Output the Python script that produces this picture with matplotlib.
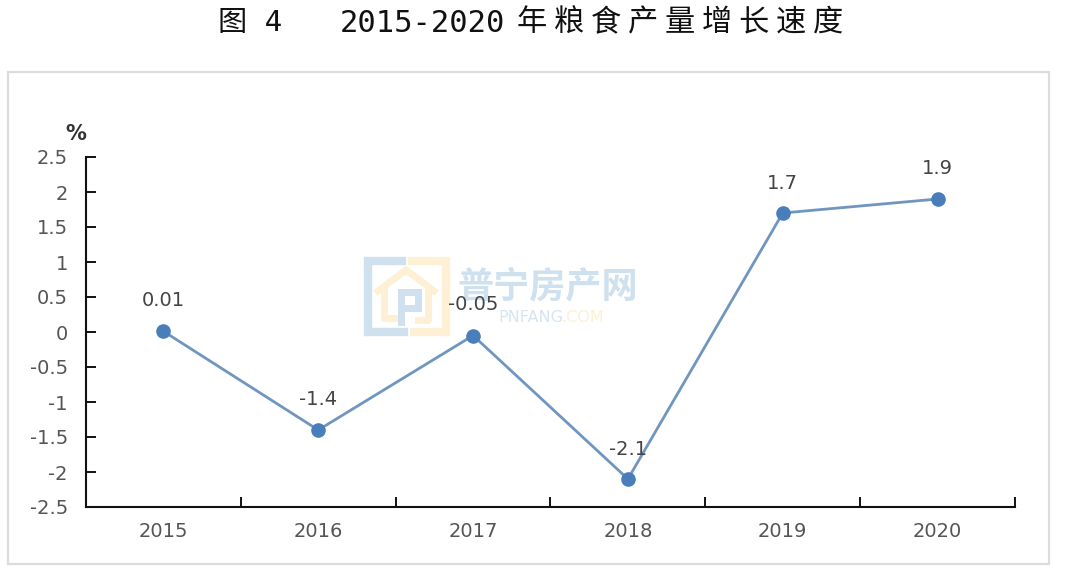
import matplotlib
matplotlib.use("Agg")
import matplotlib.pyplot as plt
from matplotlib.patches import Rectangle

plt.rcParams['font.family'] = ['DejaVu Sans', 'Noto Sans CJK SC']

years = ["2015", "2016", "2017", "2018", "2019", "2020"]
growth = [0.01, -1.4, -0.05, -2.1, 1.7, 1.9]
labels = ["0.01", "-1.4", "-0.05", "-2.1", "1.7", "1.9"]
yticks = [-2.5, -2, -1.5, -1, -0.5, 0, 0.5, 1, 1.5, 2, 2.5]
yticklabels = ["-2.5", "-2", "-1.5", "-1", "-0.5", "0", "0.5", "1", "1.5", "2", "2.5"]

W, H = 1080, 572
fig = plt.figure(figsize=(W / 100, H / 100), dpi=100)

# frame around the chart
bg = fig.add_axes([0, 0, 1, 1])
bg.set_xlim(0, W)
bg.set_ylim(H, 0)
bg.axis("off")
bg.add_patch(Rectangle((8, 72), 1041, 492, fill=False, ec="#dcdcdc", lw=1.6))

# watermark
blue = "#cfe0ee"
yellow = "#fdf0d5"
bg.plot([402, 368, 368, 404], [261, 261, 332, 332], color=blue, lw=6, solid_joinstyle="miter")
bg.plot([412, 446, 446, 414], [261, 261, 332, 332], color=yellow, lw=6, solid_joinstyle="miter")
bg.plot([378, 406, 434], [291, 270, 291], color=yellow, lw=5, solid_joinstyle="miter")
bg.plot([384, 384, 396], [291, 318, 318], color=yellow, lw=5)
bg.plot([428, 428, 418], [291, 320, 320], color=yellow, lw=5)
bg.plot([401, 401, 418, 418, 403], [322, 292, 292, 308, 308], color=blue, lw=5, solid_joinstyle="miter")
bg.text(548, 287, "普宁房产网", fontsize=26, color="#cfe0ee", ha="center", va="center",
        family="Noto Sans CJK SC", weight="bold")
bg.text(498, 318, "PNFANG", fontsize=11.5, color="#d6e5f1", ha="left", va="center")
bg.text(561, 318, ".COM", fontsize=11.5, color="#fdf0d5", ha="left", va="center")

# title, three pieces because the spacing differs
title_color = "#111111"
bg.text(218, 23, "图 4", fontsize=21, ha="left", va="center", color=title_color,
        family=["DejaVu Sans Mono", "Noto Sans CJK SC"])
bg.text(340, 23, "2015-2020", fontsize=22, ha="left", va="center", color=title_color,
        family="DejaVu Sans Mono")
bg.text(517, 23, "年 粮 食 产 量 增 长 速 度", fontsize=21.8, ha="left", va="center",
        color=title_color, family="Noto Sans CJK SC")

ax = fig.add_axes([86 / W, 1 - 507 / H, 929 / W, 350 / H])
ax.patch.set_alpha(0)
x = list(range(len(years)))
ax.plot(x, growth, color="#7096bf", lw=2, marker="o", ms=9.5, mfc="#4a7ebb", mec="#4a7ebb")
ax.set_xlim(-0.5, 5.5)
ax.set_ylim(-2.5, 2.5)
ax.set_yticks(yticks)
ax.set_yticklabels(yticklabels)
ax.set_xticks(x)
ax.set_xticklabels(years)
ax.set_xticks([i - 0.5 for i in range(7)], minor=True)
ax.tick_params(axis="x", which="major", length=0, pad=11, labelsize=14, labelcolor="#555555")
ax.tick_params(axis="x", which="minor", direction="in", length=7, width=1.4, color="#111111")
ax.tick_params(axis="y", direction="in", length=7, width=1.4, color="#111111",
               labelsize=14, labelcolor="#555555", pad=13)
for s in ("top", "right"):
    ax.spines[s].set_visible(False)
for s in ("left", "bottom"):
    ax.spines[s].set_linewidth(1.5)
    ax.spines[s].set_color("#111111")

# data labels sit a fixed distance above each point, in points
offsets = [22, 22, 22, 21, 21, 22]
for xi, yi, t, off in zip(x, growth, labels, offsets):
    ax.annotate(t, (xi, yi), xytext=(0, off), textcoords="offset points", ha="center",
                va="center", fontsize=14, color="#444444")

bg.text(76, 134, "%", fontsize=15, ha="center", va="center", color="#333333", weight="bold")

fig.savefig("out.png", dpi=100)
